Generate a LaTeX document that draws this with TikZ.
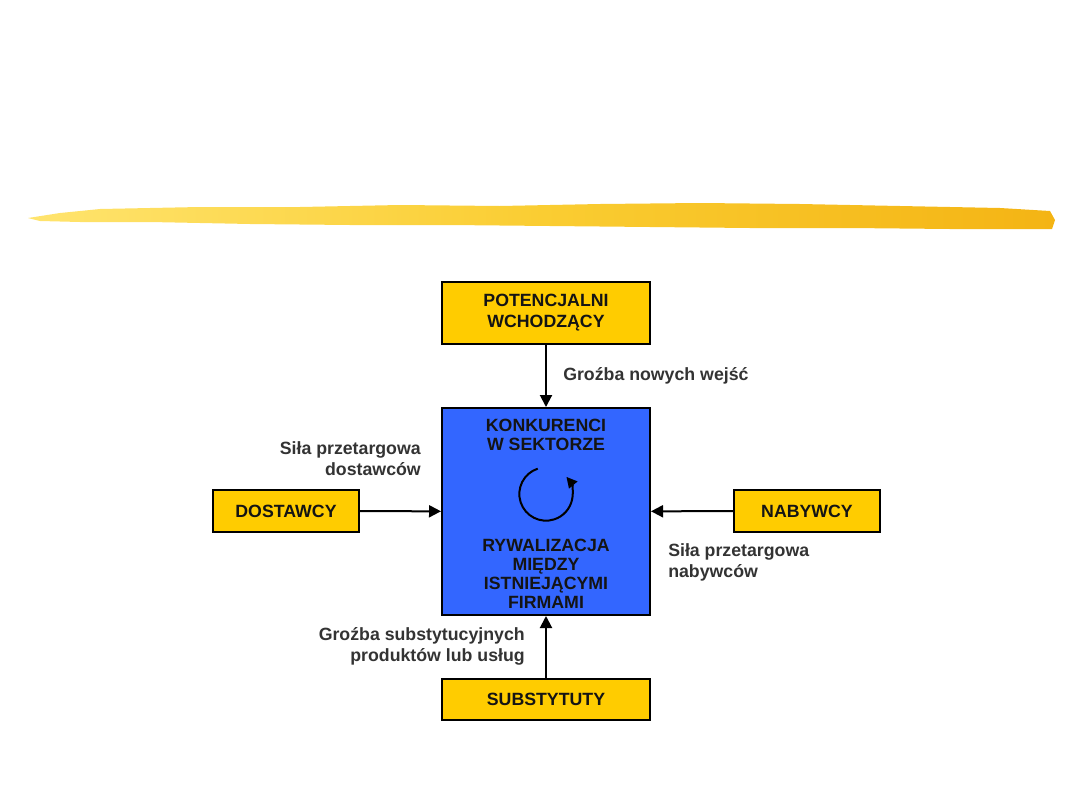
\documentclass[tikz,border=0pt]{standalone}
\usepackage{fontspec}
\setmainfont{Liberation Sans}
\usetikzlibrary{arrows.meta}
\definecolor{boxyellow}{RGB}{255,204,0}
\definecolor{boxblue}{RGB}{51,102,255}
\definecolor{txtdark}{RGB}{20,20,20}
\definecolor{lblgray}{RGB}{51,51,51}
\definecolor{brushA}{RGB}{255,228,110}
\definecolor{brushB}{RGB}{250,205,50}
\definecolor{brushC}{RGB}{244,180,20}
\tikzset{
  box/.style={draw=black, line width=1.5pt, inner sep=0pt, align=center,
    font=\fontsize{13.3}{15.75}\selectfont\bfseries, text=txtdark},
  ybox/.style={box, fill=boxyellow},
  bbox/.style={box, fill=boxblue},
  intext/.style={align=center, inner sep=0pt, text=txtdark,
    font=\fontsize{13.3}{14.25}\selectfont\bfseries},
  lbl/.style={inner sep=0pt, text=lblgray,
    font=\fontsize{13.3}{15.75}\selectfont\bfseries},
  conn/.style={line width=1.5pt, -{Triangle[length=9pt,width=9pt]}}
}
\begin{document}
\begin{tikzpicture}[x=0.75pt,y=-0.75pt]
\useasboundingbox (0,0) rectangle (1080,810);
% brush stroke
\shade[left color=brushA, right color=brushC, middle color=brushB]
  (28,218) -- (60,213) -- (100,209) -- (200,207) -- (300,207) -- (400,205)
  -- (500,206) -- (600,204) -- (700,203) -- (800,204) -- (900,206)
  -- (1000,208) -- (1050,211) -- (1055,220) -- (1052,229) -- (950,229)
  -- (850,228) -- (750,228) -- (650,227) -- (550,226) -- (450,225)
  -- (350,225) -- (250,224) -- (150,222) -- (80,222) -- (40,221) -- cycle;
% boxes
\node[ybox, minimum width=156pt, minimum height=46.5pt] (pot) at (546,313)
  {POTENCJALNI\\WCHODZĄCY};
\node[bbox, minimum width=156pt, minimum height=155.25pt] (kon) at (546,511.5) {};
\node[ybox, minimum width=109.5pt, minimum height=31.5pt] (dos) at (286,511) {DOSTAWCY};
\node[ybox, minimum width=109.5pt, minimum height=31.5pt] (nab) at (807,511) {NABYWCY};
\node[ybox, minimum width=156pt, minimum height=30.75pt] (sub) at (546,699.5) {SUBSTYTUTY};
% inner text
\node[intext] (t1) at (546,435) {KONKURENCI\\W SEKTORZE};
\node[intext] (t2) at (546,574) {RYWALIZACJA\\MIĘDZY\\ISTNIEJĄCYMI\\FIRMAMI};
\coordinate (cc) at (546,494);
\draw[line width=1.5pt, -{Triangle[length=8pt,width=8pt]}]
  (cc) ++(108:20pt) arc[start angle=108, end angle=400, radius=20pt];
% connectors
\draw[conn] (pot) -- (kon);
\draw[conn] (dos) -- (kon);
\draw[conn] (nab) -- (kon);
\draw[conn] (sub) -- (kon);
% labels
\node[lbl, anchor=west] (l1) at (563,376) {Groźba nowych wejść};
\node[lbl, anchor=east, align=right] (l2) at (421,459) {Siła przetargowa\\dostawców};
\node[lbl, anchor=west, align=left] (l3) at (668,562) {Siła przetargowa\\nabywców};
\node[lbl, anchor=east, align=right] (l4) at (525,646) {Groźba substytucyjnych\\produktów lub usług};
\end{tikzpicture}
\end{document}
